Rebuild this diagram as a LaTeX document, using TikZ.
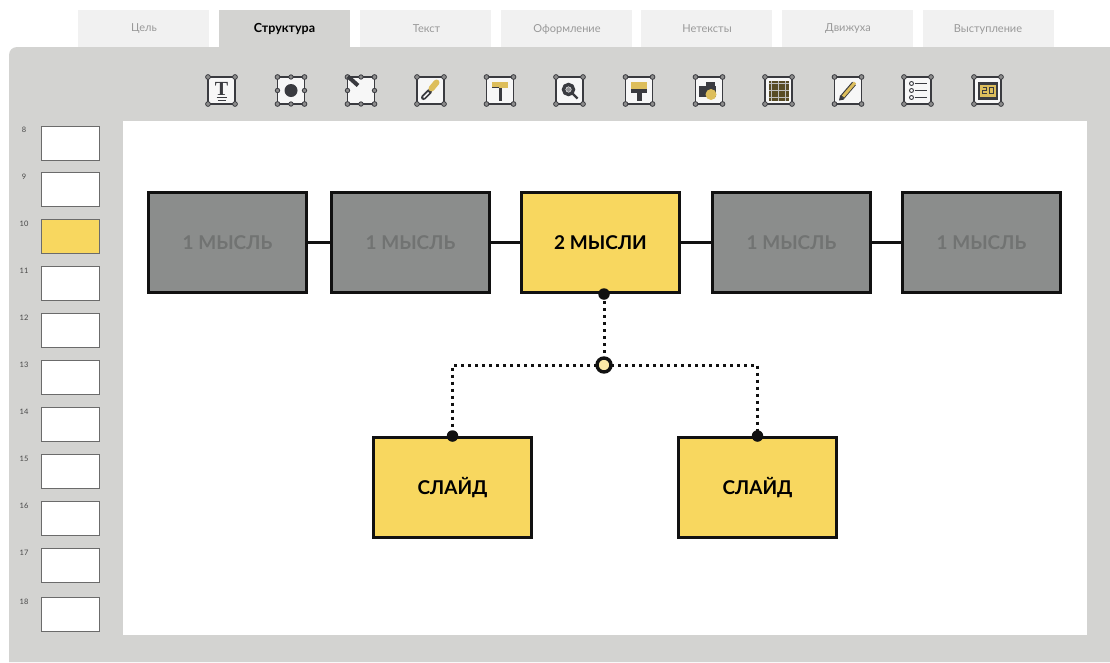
\documentclass[tikz,border=0pt]{standalone}
\usepackage{fontspec}
\setmainfont{Lato}
\newfontfamily\iconserif{Liberation Serif}
\newcommand{\boxtext}[1]{\raisebox{-1.5pt}{#1}}
\definecolor{panel}{HTML}{D3D3D1}
\definecolor{tabc}{HTML}{F1F1F1}
\definecolor{ylw}{HTML}{F8D75F}
\definecolor{gry}{HTML}{8B8D8C}
\definecolor{grytxt}{HTML}{717372}
\definecolor{ink}{HTML}{111111}
\definecolor{icn}{HTML}{3A3B40}
\definecolor{ity}{HTML}{DDBE5C}
\tikzset{
  tabbox/.style={fill=tabc,draw=none,minimum width=131pt,minimum height=37pt,inner sep=0pt,anchor=north west},
  tablabel/.style={text=black!40,font=\fontsize{11}{13}\selectfont,inner sep=0pt},
  thumb/.style={draw=black!58,line width=1.1pt,fill=white,minimum width=58pt,minimum height=34pt,inner sep=0pt,anchor=north west},
  numlabel/.style={text=black!72,font=\fontsize{7.5}{9}\selectfont,inner sep=0pt},
  bigbox/.style={draw=ink,line width=3pt,minimum width=158pt,minimum height=100pt,inner sep=0pt,anchor=north west,font=\bfseries\fontsize{19}{22}\selectfont},
  graybox/.style={bigbox,fill=gry,text=grytxt},
  yellowbox/.style={bigbox,fill=ylw,text=black},
  solidlink/.style={draw=ink,line width=3pt},
  dotlink/.style={draw=ink,line width=3pt,dash pattern=on 3pt off 4pt},
  enddot/.style={circle,fill=ink,minimum size=11.5pt,inner sep=0pt},
  hubdot/.style={circle,draw=ink,fill=ylw!55!white,line width=3.4pt,minimum size=14pt,inner sep=0pt},
  handle/.style={draw=icn,fill=black!45,line width=.8pt},
}
\newcommand{\iconframe}{%
  \fill[white!97!black] (-13.5,-13.5) rectangle (13.5,13.5);
  \draw[icn,line width=1.1pt] (-13.5,-13.5) rectangle (13.5,13.5);
  \foreach \hx/\hy in {-13.5/-13.5,13.5/-13.5,-13.5/13.5,13.5/13.5}{\draw[handle] (\hx,\hy) circle (2.4);}
}
\newcommand{\midhandles}{%
  \foreach \hx/\hy in {0/-13.5,0/13.5,-13.5/0,13.5/0}{\draw[handle] (\hx,\hy) circle (2.2);}
}
\begin{document}
\begin{tikzpicture}[x=1pt,y=-1pt]
\useasboundingbox (0,0) rectangle (1110,662);
\fill[white] (0,0) rectangle (1110,662);
% tabs
\node[tabbox] (t1) at (78,10) {};
\node[tabbox,fill=panel] (t2) at (219,10) {};
\node[tabbox] (t3) at (360,10) {};
\node[tabbox] (t4) at (501,10) {};
\node[tabbox] (t5) at (641,10) {};
\node[tabbox] (t6) at (782,10) {};
\node[tabbox] (t7) at (923,10) {};
\node[tablabel] (l1) at (144,29) {Цель};
\node[tablabel,text=black,font=\bfseries\fontsize{12.5}{14}\selectfont] (l2) at (284.5,29) {Структура};
\node[tablabel] (l3) at (426.5,29) {Текст};
\node[tablabel] (l4) at (567,29) {Оформление};
\node[tablabel] (l5) at (707,29) {Нетексты};
\node[tablabel] (l6) at (848,29) {Движуха};
\node[tablabel] (l7) at (988,29) {Выступление};
% panel
\fill[panel] (9,662) -- (9,55) arc[start angle=180,end angle=270,radius=8] -- (1110,47) -- (1110,662) -- cycle;
\fill[white] (123,121) rectangle (1087,635);
% thumbnails
\foreach \n/\yy in {8/125.5,9/172,11/266,12/313,13/360,14/407,15/454,16/501,17/548,18/597}{
  \node[thumb] (s\n) at (41,\yy) {};
  \node[numlabel] (n\n) at (24,\yy+4.5) {\n};
}
\node[thumb,fill=ylw] (s10) at (41,219) {};
\node[numlabel] (n10) at (24,223.5) {10};
% icons
\begin{scope}[shift={(221.5,90.5)}]\iconframe
  \node[inner sep=0pt,text=icn,font=\iconserif\bfseries\fontsize{20}{20}\selectfont] (i1) at (0,-2) {T};
  \draw[icn,line width=.9pt] (-5,7) -- (5,7);
  \draw[icn,line width=.9pt] (-4,9.5) -- (4,9.5);
\end{scope}
\begin{scope}[shift={(291,90.5)}]\iconframe\midhandles
  \fill[icn] (0,0) circle (6.5);
\end{scope}
\begin{scope}[shift={(361,90.5)}]\iconframe\midhandles
  \draw[icn,line width=4pt] (-13,-14) -- (-3,-5);
\end{scope}
\begin{scope}[shift={(430.5,90.5)}]\iconframe
  \draw[icn,line width=5pt,line cap=round] (-7,7) -- (-1,1);
  \draw[white,line width=1.4pt] (-7,7) -- (-2,2);
  \draw[ity,line width=6pt,line cap=round] (1,-2) -- (6,-8);
\end{scope}
\begin{scope}[shift={(500,90.5)}]\iconframe
  \fill[ity] (-8,-9) rectangle (8,-3);
  \fill[icn] (-8,-4) rectangle (-1,-2.5);
  \fill[icn] (-1.5,-3) rectangle (1.5,10);
\end{scope}
\begin{scope}[shift={(569.5,90.5)}]\iconframe
  \draw[icn,line width=3.4pt] (-1,-1) circle (5);
  \fill[icn!55] (-1,-1) circle (2.4);
  \draw[icn,line width=2.2pt] (3,3) -- (8,8);
\end{scope}
\begin{scope}[shift={(639,90.5)}]\iconframe
  \fill[ity] (-8,-9) rectangle (8,-2);
  \fill[icn] (-8,-2) rectangle (8,2);
  \fill[icn] (-2.5,2) rectangle (2.5,10);
\end{scope}
\begin{scope}[shift={(709,90.5)}]\iconframe
  \fill[icn] (-10,-5) rectangle (7,6);
  \fill[icn] (-3,-9) rectangle (6,-5);
  \fill[ity] (2,4) circle (5.5);
\end{scope}
\begin{scope}[shift={(778.5,90.5)}]\iconframe
  \fill[black!60!ity] (-10,-10) rectangle (10,10);
  \foreach \a in {-6.7,0,6.7}{\draw[white!75!black,line width=.9pt] (\a,-10) -- (\a,10);\draw[white!75!black,line width=.9pt] (-10,\a) -- (10,\a);}
\end{scope}
\begin{scope}[shift={(848,90.5)}]\iconframe
  \draw[icn,line width=5pt] (-6,7) -- (6,-7);
  \draw[ity,line width=3pt] (-5,6) -- (7,-8);
  \fill[icn] (-9,10) -- (-8,5) -- (-4,9) -- cycle;
\end{scope}
\begin{scope}[shift={(917.5,90.5)}]\iconframe
  \foreach \b in {-7,0,7}{
    \draw[icn,line width=.9pt] (-6,\b) circle (2);
    \draw[icn,line width=1.2pt] (-3,\b) -- (9,\b);}
\end{scope}
\begin{scope}[shift={(987.5,90.5)}]\iconframe
  \fill[icn] (-10,-9) rectangle (10,9);
  \fill[ity] (-8,-6) rectangle (8,6);
  \draw[icn,line width=1.2pt] (-5,-3) -- (-1,-3) -- (-1,0) -- (-5,0) -- (-5,3) -- (-1,3);
  \draw[icn,line width=1.2pt] (2,-3) rectangle (6,3);
\end{scope}
% main boxes
\node[graybox] (b1) at (147,191) {\boxtext{1 МЫСЛЬ}};
\node[graybox] (b2) at (330,191) {\boxtext{1 МЫСЛЬ}};
\node[yellowbox] (b3) at (520,191) {\boxtext{2 МЫСЛИ}};
\node[graybox] (b4) at (711,191) {\boxtext{1 МЫСЛЬ}};
\node[graybox] (b5) at (901,191) {\boxtext{1 МЫСЛЬ}};
\node[yellowbox] (c1) at (372,436) {\boxtext{СЛАЙД}};
\node[yellowbox] (c2) at (677,436) {\boxtext{СЛАЙД}};
\draw[solidlink] (b1) -- (b2);
\draw[solidlink] (b2) -- (b3);
\draw[solidlink] (b3) -- (b4);
\draw[solidlink] (b4) -- (b5);
% dotted tree
\coordinate (hubc) at (604,365);
\coordinate (topc) at (hubc |- b3.south);
\draw[dotlink] (topc) -- (hubc);
\draw[dotlink] (hubc) -| (c1.north);
\draw[dotlink] (hubc) -| (c2.north);
\node[enddot] (d0) at (topc) {};
\node[enddot] (d1) at (c1.north) {};
\node[enddot] (d2) at (c2.north) {};
\node[hubdot] (hub) at (hubc) {};
\end{tikzpicture}
\end{document}
